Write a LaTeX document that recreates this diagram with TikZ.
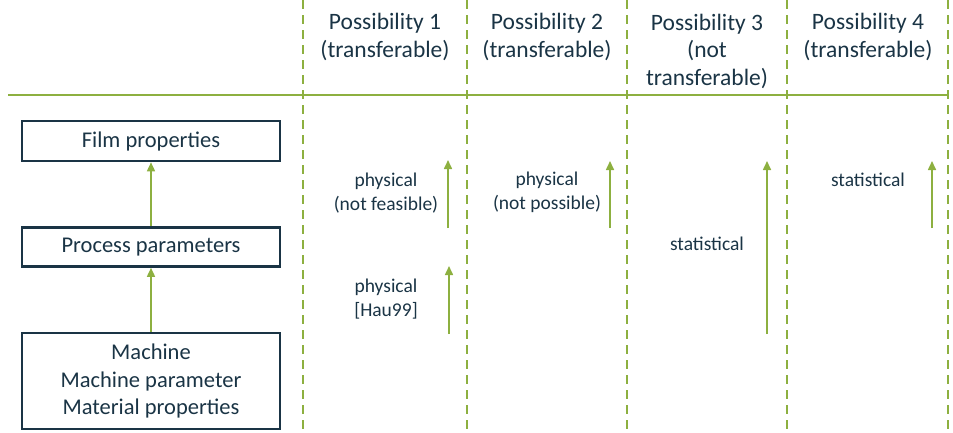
\documentclass[tikz,border=0pt]{standalone}
\usepackage{fontspec}
\setmainfont{Carlito}
\usetikzlibrary{arrows.meta}
\definecolor{grn}{HTML}{8DB040}
\definecolor{txt}{HTML}{1A3445}
\begin{document}
\begin{tikzpicture}[x=1pt,y=-1pt,
  every node/.style={text=txt},
  sep/.style={draw=grn,line width=2.4pt,dash pattern=on 9pt off 6pt},
  rule/.style={draw=grn,line width=2.6pt},
  head/.style={font=\fontsize{23.5}{27.5}\selectfont,align=center},
  lbl/.style={font=\fontsize{19.5}{24}\selectfont,align=center},
  boxnode/.style={draw=txt,line width=2.6pt,minimum width=258pt,font=\fontsize{22.5}{27.5}\selectfont,align=center,inner sep=0pt},
  arr/.style={draw=grn,line width=1.6pt,-{Triangle[length=9pt,width=8pt]}}]
\useasboundingbox (0,0) rectangle (953,432);
% column separators
\foreach \x/\n in {303/s1,467/s2,627/s3,787/s4,948/s5}{
  \coordinate (\n t) at (\x,0);
  \coordinate (\n b) at (\x,432);
  \draw[sep] (\n t) -- (\n b);
}
\coordinate (rl) at (8,95);
\coordinate (rr) at (948,95);
\draw[rule] (rl) -- (rr);
% headers
\node[head] (h1) at (385,37) {Possibility 1\\(transferable)};
\node[head] (h2) at (547,37) {Possibility 2\\(transferable)};
\node[head] (h3) at (707,51) {Possibility 3\\(not\\transferable)};
\node[head] (h4) at (868,37) {Possibility 4\\(transferable)};
% boxes
\node[boxnode,minimum height=40pt] (film) at (151,141) {Film properties};
\node[boxnode,minimum height=39pt] (proc) at (151,247) {Process parameters};
\node[boxnode,minimum height=96pt] (mach) at (151,381) {Machine\\Machine parameter\\Material properties};
\draw[arr] (mach.north) -- (proc.south);
\draw[arr] (proc.north) -- (film.south);
% column 1
\node[lbl] (l1a) at (386,193) {physical\\(not feasible)};
\node[lbl] (l1b) at (386,299) {physical\\{[Hau99]}};
\coordinate (a1s) at (448,228); \coordinate (a1e) at (448,160);
\coordinate (b1s) at (449,334); \coordinate (b1e) at (449,266);
\draw[arr] (a1s) -- (a1e);
\draw[arr] (b1s) -- (b1e);
% column 2
\node[lbl] (l2) at (547,192) {physical\\(not possible)};
\coordinate (a2s) at (610,228); \coordinate (a2e) at (610,161);
\draw[arr] (a2s) -- (a2e);
% column 3
\node[lbl] (l3) at (707,244) {statistical};
\coordinate (a3s) at (767,334); \coordinate (a3e) at (767,161);
\draw[arr] (a3s) -- (a3e);
% column 4
\node[lbl] (l4) at (868,180) {statistical};
\coordinate (a4s) at (932,228); \coordinate (a4e) at (932,161);
\draw[arr] (a4s) -- (a4e);
\end{tikzpicture}
\end{document}
